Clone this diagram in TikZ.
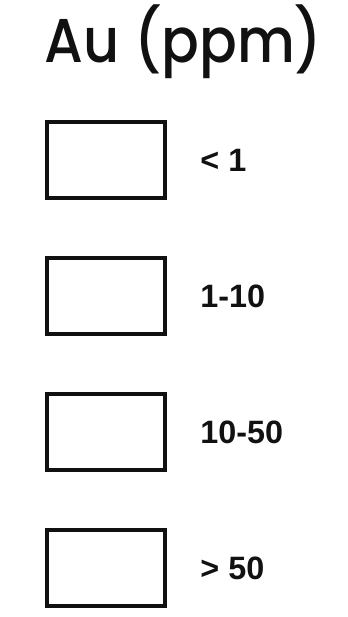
\documentclass[tikz,border=0pt]{standalone}
\usepackage{fontspec}
\usepackage{xcolor}
\usepackage{tikz}
\usetikzlibrary{positioning}
\newfontfamily\titlefont{Poppins}[UprightFont=* Medium]
\newfontfamily\labelfont{Liberation Sans}
\definecolor{LegInk}{HTML}{111111}
\tikzset{
  legbox/.style={draw=LegInk,line width=2.8pt,minimum width=29.5mm,minimum height=19mm,inner sep=0pt},
  leglabel/.style={inner sep=0pt,text=LegInk,font=\labelfont\bfseries\fontsize{23}{25}\selectfont},
  legtitle/.style={inner sep=0pt,text=LegInk,font=\titlefont\fontsize{44}{48}\selectfont}
}
\begin{document}
\begin{tikzpicture}[node distance=14mm and 8.3mm]
\useasboundingbox (0,0) rectangle (8.675,-15.425);
\node[legtitle,anchor=base] (title) at (4.59,-1.575) {\scalebox{0.9}[1]{Au (ppm)}};
\node[legbox] (lt1) at (2.65,-4.01) {};
\node[legbox,below=of lt1] (lt10) {};
\node[legbox,below=of lt10] (lt50) {};
\node[legbox,below=of lt50] (gt50) {};
\node[leglabel,right=of lt1] (lt1txt) {< 1};
\node[leglabel,right=of lt10] (lt10txt) {1-10};
\node[leglabel,right=of lt50] (lt50txt) {10-50};
\node[leglabel,right=of gt50] (gt50txt) {> 50};
\end{tikzpicture}
\end{document}
